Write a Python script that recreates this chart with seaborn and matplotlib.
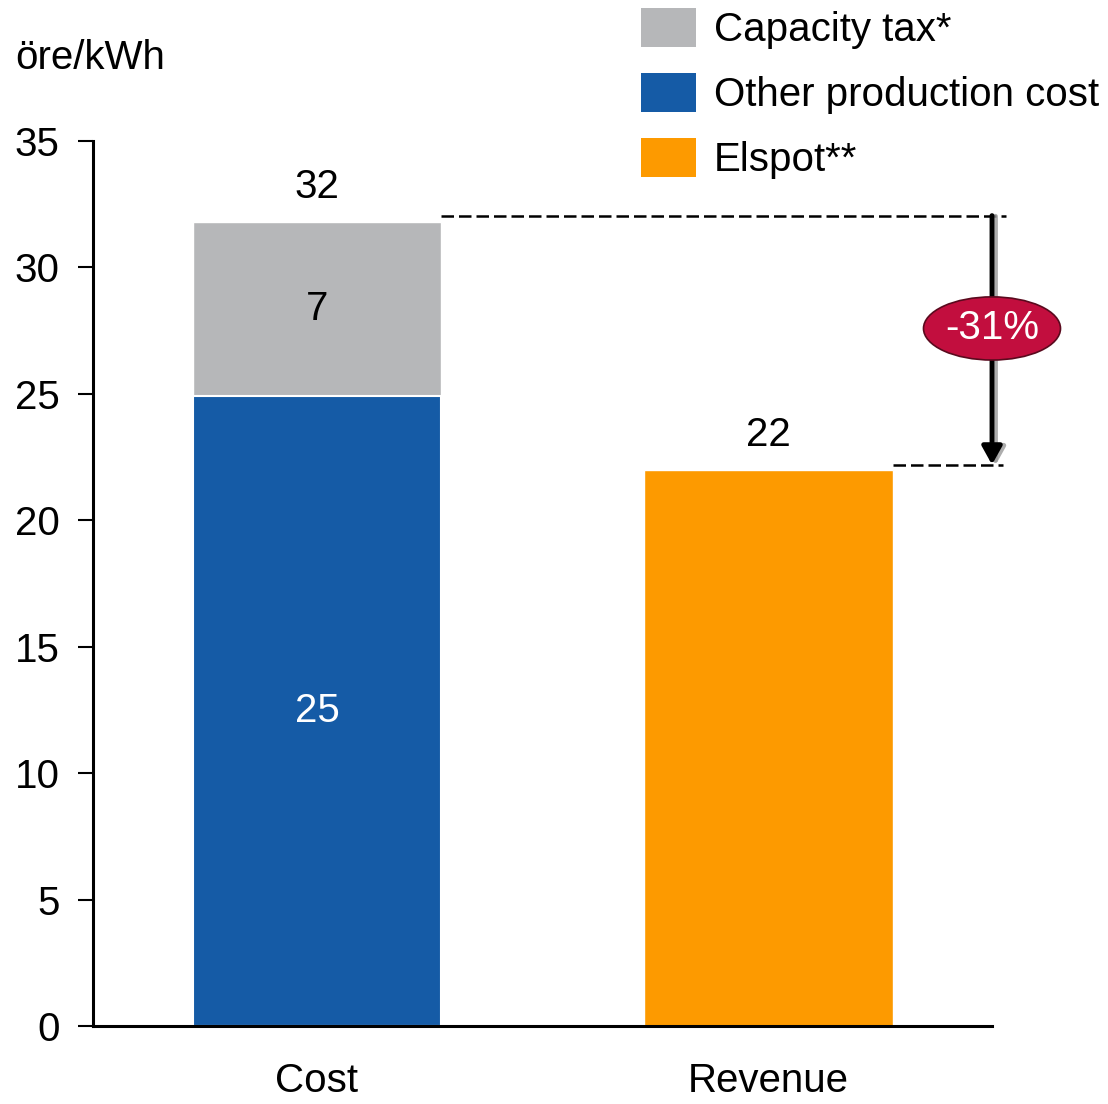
import matplotlib
matplotlib.use("Agg")
import matplotlib.pyplot as plt
import matplotlib.patheffects as pe
from matplotlib.patches import Patch, Ellipse
import numpy as np
import pandas as pd
import seaborn as sns

# values (öre/kWh)
categories = ["Cost", "Revenue"]
capacity_tax = [6.9, 0.0]
other_production = [24.9, 0.0]
elspot = [0.0, 22.0]
change_label = "-31%"
components = ["Capacity tax*", "Other production cost", "Elspot**"]

colors = {
    "Capacity tax*": "#B6B7B9",
    "Other production cost": "#155BA6",
    "Elspot**": "#FD9A00",
}

sns.set_theme(style="white")
plt.rcParams["font.family"] = ["Liberation Sans", "DejaVu Sans"]
FS = 29

fig = plt.figure(figsize=(11.08, 11.04), dpi=100)
fig.patch.set_facecolor("white")
ax = fig.add_axes([93 / 1108, 78 / 1104, (992 - 93) / 1108, (1026 - 141) / 1104])

# top layer of each bar = total height, coloured by its top component
totals = [c + o + e for c, o, e in zip(capacity_tax, other_production, elspot)]
top_comp = ["Capacity tax*" if c > 0 else "Elspot**" for c in capacity_tax]
df_top = pd.DataFrame({"category": categories, "value": totals, "component": top_comp})
bw = 0.55
sns.barplot(data=df_top, x="category", y="value", hue="component", palette=colors,
            dodge=False, width=bw, saturation=1, legend=False, ax=ax, order=categories)

# base layer for the stacked Cost bar
df_base = pd.DataFrame({"category": categories, "value": other_production})
df_base = df_base[df_base.value > 0]
sns.barplot(data=df_base, x="category", y="value", order=categories, color=colors["Other production cost"],
            width=bw, saturation=1, edgecolor="white", linewidth=1.5, ax=ax)

ax.set_xlim(-0.496, 1.495)
ax.set_ylim(0, 35)
ax.set_yticks(np.arange(0, 36, 5))
ax.set_xlabel("")
ax.set_ylabel("")
for s in ["top", "right"]:
    ax.spines[s].set_visible(False)
for s in ["left", "bottom"]:
    ax.spines[s].set_linewidth(2.2)
    ax.spines[s].set_color("black")
ax.tick_params(axis="y", length=11, width=1.5, pad=13, labelsize=FS, colors="black", left=True)
ax.tick_params(axis="x", length=0, pad=26, labelsize=FS, colors="black")

# value labels
for i, t in enumerate(totals):
    ax.annotate(f"{t:.0f}", (i, t), xytext=(0, 25), textcoords="offset points",
                ha="center", va="center", fontsize=FS, color="black")
ax.text(0, other_production[0] + capacity_tax[0] / 2, f"{capacity_tax[0]:.0f}",
        ha="center", va="center", fontsize=FS, color="black")
ax.text(0, other_production[0] / 2, f"{other_production[0]:.0f}",
        ha="center", va="center", fontsize=FS, color="white")

# difference marker
xr = ax.get_xlim()[1]
hi, lo = totals[0] + 0.25, totals[1] + 0.2
dash = dict(color="black", lw=1.8, linestyle=(0, (5, 2)), clip_on=False)
ax.plot([bw / 2, xr + 0.03], [hi, hi], **dash)
ax.plot([1 + bw / 2, xr + 0.025], [lo, lo], **dash)
ax.annotate("", xy=(xr, lo), xytext=(xr, hi), annotation_clip=False,
            arrowprops=dict(arrowstyle="-|>,head_width=0.5,head_length=0.9", lw=3.5, color="black",
                            shrinkA=0, shrinkB=0,
                            path_effects=[pe.SimpleLineShadow(offset=(2.5, -0.5), shadow_color="#999999", alpha=0.8),
                                          pe.Normal()]))
ycen = (1026 - 330) / 25.23
ax.add_patch(Ellipse((xr, ycen), 137 / 451.5, 63 / 25.23, facecolor="#C20E3E",
                     edgecolor="#5A0A1E", lw=1.2, clip_on=False, zorder=5))
ax.text(xr, ycen, change_label, ha="center", va="center", fontsize=FS, color="white", zorder=6)

# legend
handles = [Patch(facecolor=colors[c], edgecolor="none", label=c) for c in components]
leg = ax.legend(handles=handles, loc="upper left", bbox_to_anchor=(641 / 1108, 1 - 8 / 1104),
                bbox_transform=fig.transFigure, frameon=False, fontsize=FS, borderpad=0, borderaxespad=0,
                handlelength=1.36, handleheight=1.13, handletextpad=0.45, labelspacing=0.58)
for t in leg.get_texts():
    t.set_color("black")

fig.text(15 / 1108, 1 - 58 / 1104, "öre/kWh", ha="left", va="center", fontsize=FS, color="black")

fig.savefig("out.png", dpi=100, facecolor="white")
